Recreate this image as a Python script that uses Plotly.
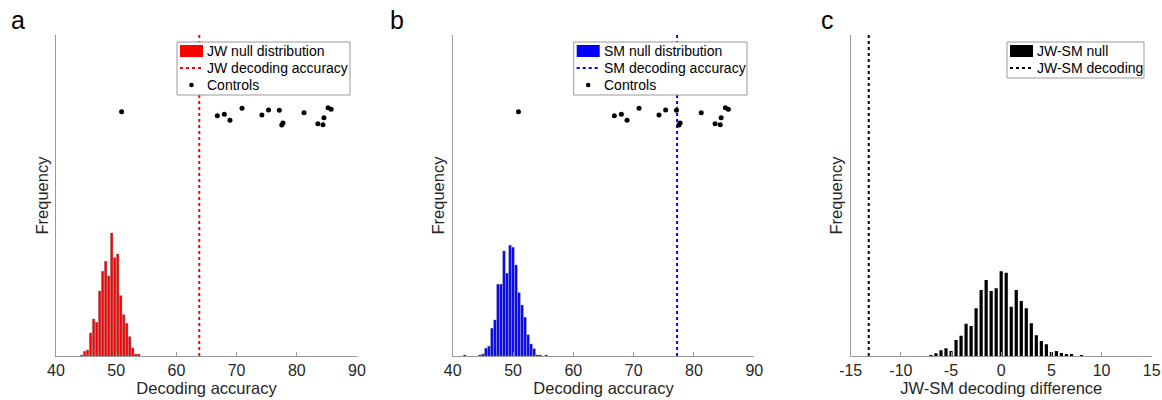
import plotly.graph_objects as go

# ---------------- data ----------------
jw_null_bins = [44.25, 44.75, 45.25, 45.75, 46.25, 46.75, 47.25, 47.75, 48.25, 48.75,
                49.25, 49.75, 50.25, 50.75, 51.25, 51.75, 52.25, 52.75, 53.25, 53.75]
jw_null_freq = [1, 4.7, 6, 23, 37, 33.7, 65, 84.7, 94.7, 80,
                123, 98.3, 102, 60.3, 41.3, 32.7, 19.3, 8, 2, 2]
jw_decoding = 63.8

sm_null_bins = [42.0, 44.5, 45.0, 45.5, 46.0, 46.5, 47.0, 47.5, 48.0, 48.5, 49.0, 49.5,
                50.0, 50.5, 51.0, 51.5, 52.0, 52.5, 53.0, 53.5, 54.0, 54.5, 55.5]
sm_null_freq = [1, 1, 2, 7.7, 9.7, 27.7, 36, 71.7, 71.7, 105, 82.7, 110.7,
                108.7, 91, 63.3, 51, 38.7, 21.3, 12, 7.3, 1, 1, 1]
sm_decoding = 77.2

diff_null_bins = [-7.0, -6.5, -6.0, -5.5, -5.0, -4.5, -4.0, -3.5, -3.0, -2.5, -2.0, -1.5,
                  -1.0, -0.5, 0.0, 0.5, 1.0, 1.5, 2.0, 2.5, 3.0, 3.5, 4.0, 4.5, 5.0,
                  5.5, 6.0, 6.5, 7.0, 8.0]
diff_null_freq = [1, 2.7, 5.7, 7.7, 5, 16, 20.3, 32.3, 30, 47.7, 66, 76,
                  65, 67.7, 84.7, 83.3, 49.3, 66, 55, 47.7, 32.7, 20.7, 15, 11.7, 4,
                  5, 3, 2, 1.3, 1]
diff_decoding = -13.2

controls_acc = [50.9, 66.8, 67.96, 68.9, 70.9, 74.2, 75.3, 77.1, 77.5, 77.7,
                81.2, 83.5, 84.5, 84.35, 85.2, 85.7]
controls_jitter = [244.3, 240.3, 241.7, 235.7, 247.7, 241, 246, 245.7, 231, 233,
                   243.3, 232.3, 238.3, 231.3, 248.3, 246.7]

y_top = 321

legend_a = ["JW null distribution", "JW decoding accuracy", "Controls"]
legend_b = ["SM null distribution", "SM decoding accuracy", "Controls"]
legend_c = ["JW-SM null", "JW-SM decoding"]

# ---------------- figure ----------------
OFF = 0
W, H = 1162, 400
FONT = "Liberation Sans, Arial, Helvetica, sans-serif"
AX = "#999999"
TXT = "#262626"


def px_x(p):
    return (p - OFF) / W


def px_y(p):
    return 1 - (p - OFF) / H


fig = go.Figure()

# panel a
fig.add_trace(go.Bar(x=jw_null_bins, y=jw_null_freq, width=0.4, name=legend_a[0],
                     marker=dict(color="#ff0000", line=dict(color="#666666", width=0.4)),
                     xaxis="x", yaxis="y"))
fig.add_trace(go.Scatter(x=[jw_decoding, jw_decoding], y=[0, y_top], mode="lines",
                         name=legend_a[1], line=dict(color="#ff0000", width=2, dash="dot"),
                         xaxis="x", yaxis="y"))
fig.add_trace(go.Scatter(x=controls_acc, y=controls_jitter, mode="markers", name=legend_a[2],
                         marker=dict(color="black", size=5), xaxis="x", yaxis="y"))

# panel b
fig.add_trace(go.Bar(x=sm_null_bins, y=sm_null_freq, width=0.4, name=legend_b[0],
                     marker=dict(color="#0000ff", line=dict(color="#666666", width=0.4)),
                     xaxis="x2", yaxis="y2"))
fig.add_trace(go.Scatter(x=[sm_decoding, sm_decoding], y=[0, y_top], mode="lines",
                         name=legend_b[1], line=dict(color="#0000ff", width=2, dash="dot"),
                         xaxis="x2", yaxis="y2"))
fig.add_trace(go.Scatter(x=controls_acc, y=controls_jitter, mode="markers", name=legend_b[2],
                         marker=dict(color="black", size=5), xaxis="x2", yaxis="y2"))

# panel c
fig.add_trace(go.Bar(x=diff_null_bins, y=diff_null_freq, width=0.32, name=legend_c[0],
                     marker=dict(color="black", line=dict(width=0)),
                     xaxis="x3", yaxis="y3"))
fig.add_trace(go.Scatter(x=[diff_decoding, diff_decoding], y=[0, y_top], mode="lines",
                         name=legend_c[1], line=dict(color="black", width=2, dash="dot"),
                         xaxis="x3", yaxis="y3"))

domains = [(56, 357), (452.7, 754.3), (850.7, 1151.7)]
xranges = [[40, 90], [40, 90], [-15, 15]]
xticks = [[40, 50, 60, 70, 80, 90], [40, 50, 60, 70, 80, 90], [-15, -10, -5, 0, 5, 10, 15]]
xtitles = ["Decoding accuracy", "Decoding accuracy", "JW-SM decoding difference"]
ydom = [px_y(356), px_y(35)]

layout = dict(
    width=W, height=H,
    margin=dict(l=0, r=0, t=0, b=0),
    paper_bgcolor="white", plot_bgcolor="white",
    font=dict(family=FONT, color=TXT, size=16),
    barmode="overlay",
    showlegend=False,
)
for i in range(3):
    sx = "" if i == 0 else str(i + 1)
    layout["xaxis" + sx] = dict(
        domain=[px_x(domains[i][0]), px_x(domains[i][1])],
        range=xranges[i], tickvals=xticks[i],
        ticktext=[str(v) for v in xticks[i]],
        showline=True, linecolor=AX, linewidth=1, mirror=False,
        ticks="inside", ticklen=4, tickcolor=AX,
        showgrid=False, zeroline=False,
        tickfont=dict(size=16, color=TXT),
        title=dict(text=xtitles[i], font=dict(size=16.5, color=TXT), standoff=4),
        anchor="y" + sx, automargin=False,
    )
    layout["yaxis" + sx] = dict(
        domain=ydom, range=[0, y_top],
        showline=True, linecolor=AX, linewidth=1,
        showticklabels=False, ticks="", showgrid=False, zeroline=False,
        title=dict(text="Frequency", font=dict(size=16.5, color=TXT), standoff=2),
        anchor="x" + sx, automargin=False,
    )

shapes = []
annotations = []

# panel letters
for lab, xc in zip(["a", "b", "c"], [18, 397, 827]):
    annotations.append(dict(text=lab, x=px_x(xc), y=px_y(20), xref="paper", yref="paper",
                            xanchor="center", yanchor="middle", showarrow=False,
                            font=dict(size=25, color="black", family=FONT)))


# hand-built MATLAB-style legends (box, swatches, labels)
def add_legend(left, right, labels, kinds, color):
    top = 42
    row_h = 17
    rows = [51 + row_h * k for k in range(len(labels))]
    bottom = rows[-1] + 10
    shapes.append(dict(type="rect", xref="paper", yref="paper",
                       x0=px_x(left), x1=px_x(right), y0=px_y(bottom), y1=px_y(top),
                       line=dict(color=AX, width=1), fillcolor="white", layer="above"))
    sx0, sx1 = left + 3, left + 26
    for lab, kind, yc in zip(labels, kinds, rows):
        if kind == "bar":
            shapes.append(dict(type="rect", xref="paper", yref="paper",
                               x0=px_x(sx0), x1=px_x(sx1), y0=px_y(yc + 6), y1=px_y(yc - 6),
                               line=dict(width=0), fillcolor=color, layer="above"))
        elif kind == "line":
            shapes.append(dict(type="line", xref="paper", yref="paper",
                               x0=px_x(sx0), x1=px_x(sx1), y0=px_y(yc), y1=px_y(yc),
                               line=dict(color=color, width=2, dash="dot"), layer="above"))
        else:
            xc = (sx0 + sx1) / 2
            shapes.append(dict(type="circle", xref="paper", yref="paper",
                               x0=px_x(xc - 2.3), x1=px_x(xc + 2.3),
                               y0=px_y(yc + 2.3), y1=px_y(yc - 2.3),
                               line=dict(width=0), fillcolor="black", layer="above"))
        annotations.append(dict(text=lab, x=px_x(left + 28), y=px_y(yc), xref="paper",
                                yref="paper", xanchor="left", yanchor="middle",
                                showarrow=False,
                                font=dict(size=14, color="black", family=FONT)))


add_legend(177, 350, legend_a, ["bar", "line", "dot"], "#ff0000")
add_legend(573.7, 747, legend_b, ["bar", "line", "dot"], "#0000ff")
add_legend(1007, 1144, legend_c, ["bar", "line"], "black")

layout["shapes"] = shapes
layout["annotations"] = annotations

fig.update_layout(**layout)

# remove the default page margin so the figure fills the 1162x400 window exactly
page_fix = ("document.body.style.margin='0';document.body.style.overflow='hidden';"
            "document.documentElement.style.overflow='hidden';")
fig.write_html("out.html", post_script=page_fix, config={"displayModeBar": False})
